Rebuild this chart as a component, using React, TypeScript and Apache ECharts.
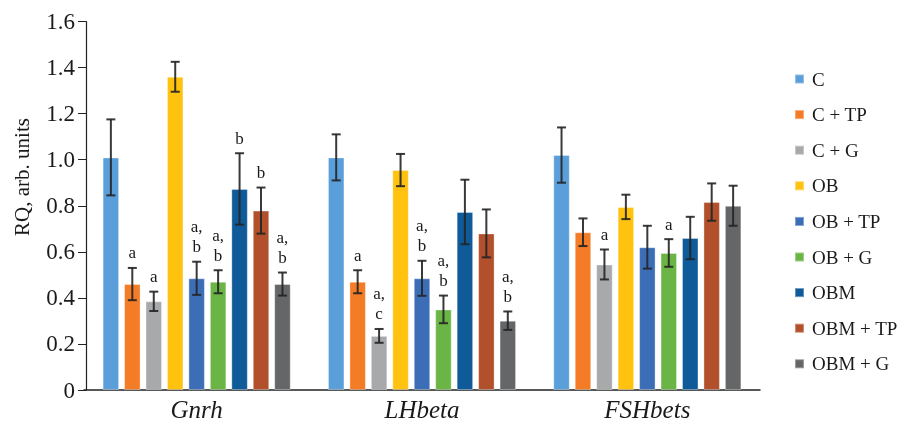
import React, { useEffect, useRef } from "react";
import * as echarts from "echarts";

const categories = ["Gnrh", "LHbeta", "FSHbets"];
const seriesNames = ["C", "C + TP", "C + G", "OB", "OB + TP", "OB + G", "OBM", "OBM + TP", "OBM + G"];
const colors = ["#5A9FD9", "#F47C26", "#A7A9AA", "#FFC20E", "#3C6EB8", "#6AB545", "#0F5A99", "#B1502A", "#646667"];

const valC = [1.01, 1.01, 1.02];
const valCTP = [0.46, 0.47, 0.685];
const valCG = [0.385, 0.235, 0.545];
const valOB = [1.36, 0.955, 0.795];
const valOBTP = [0.485, 0.485, 0.62];
const valOBG = [0.47, 0.35, 0.595];
const valOBM = [0.873, 0.773, 0.66];
const valOBMTP = [0.779, 0.68, 0.816];
const valOBMG = [0.46, 0.301, 0.8];

const errC = [0.165, 0.1, 0.12];
const errCTP = [0.07, 0.05, 0.06];
const errCG = [0.042, 0.03, 0.065];
const errOB = [0.065, 0.07, 0.053];
const errOBTP = [0.072, 0.076, 0.093];
const errOBG = [0.05, 0.06, 0.06];
const errOBM = [0.155, 0.14, 0.092];
const errOBMTP = [0.1, 0.104, 0.081];
const errOBMG = [0.05, 0.04, 0.087];

const letC = ["", "", ""];
const letCTP = ["a", "a", ""];
const letCG = ["a", "a,\nc", "a"];
const letOB = ["", "", ""];
const letOBTP = ["a,\nb", "a,\nb", ""];
const letOBG = ["a,\nb", "a,\nb", "a"];
const letOBM = ["b", "", ""];
const letOBMTP = ["b", "", ""];
const letOBMG = ["a,\nb", "a,\nb", ""];

const yTicks = [0, 0.2, 0.4, 0.6, 0.8, 1.0, 1.2, 1.4, 1.6];

const values = [valC, valCTP, valCG, valOB, valOBTP, valOBG, valOBM, valOBMTP, valOBMG];
const errors = [errC, errCTP, errCG, errOB, errOBTP, errOBG, errOBM, errOBMTP, errOBMG];
const letters = [letC, letCTP, letCG, letOB, letOBTP, letOBG, letOBM, letOBMTP, letOBMG];

const FONT = '"Liberation Serif", "Times New Roman", serif';
const BAR_W = 16.5;
const GAP_RATIO = 0.3;

export default function App() {
  const ref = useRef<HTMLDivElement>(null);
  useEffect(() => {
    if (!ref.current) return;
    const chart = echarts.init(ref.current, null, { renderer: "svg" });
    const n = seriesNames.length;
    const gap = BAR_W * GAP_RATIO;
    const total = n * BAR_W + (n - 1) * gap;

    const barSeries = seriesNames.map((name, i) => ({
      type: "bar",
      name,
      data: values[i],
      barWidth: BAR_W,
      barGap: GAP_RATIO * 100 + "%",
      itemStyle: { color: colors[i], borderColor: "rgba(255,255,255,0.35)", borderWidth: 1 },
      z: 2,
    }));

    const errSeries = seriesNames.map((name, i) => ({
      type: "custom",
      name,
      z: 5,
      clip: false,
      data: values[i].map((v, k) => [k, v, errors[i][k]]),
      renderItem: (params: any, api: any) => {
        const k = api.value(0);
        const v = api.value(1);
        const e = api.value(2);
        const base = api.coord([k, 0]);
        const cx = base[0] - total / 2 + BAR_W / 2 + i * (BAR_W + gap);
        const yt = api.coord([k, v + e])[1];
        const yb = api.coord([k, v - e])[1];
        const stroke = "rgba(35,35,38,0.9)";
        const children: any[] = [
          { type: "line", shape: { x1: cx, y1: yt, x2: cx, y2: yb }, style: { stroke, lineWidth: 2 } },
          { type: "line", shape: { x1: cx - 4.5, y1: yt, x2: cx + 4.5, y2: yt }, style: { stroke, lineWidth: 2 } },
          { type: "line", shape: { x1: cx - 4.5, y1: yb, x2: cx + 4.5, y2: yb }, style: { stroke, lineWidth: 2 } },
        ];
        const t = letters[i][params.dataIndex];
        if (t) {
          children.push({
            type: "text",
            style: {
              text: t,
              x: cx,
              y: yt - 5,
              align: "center",
              verticalAlign: "bottom",
              font: "17px " + FONT,
              lineHeight: 20,
              fill: "#1a1a1a",
            },
          });
        }
        return { type: "group", children };
      },
    }));

    chart.setOption({
      animation: false,
      textStyle: { fontFamily: FONT },
      grid: { left: 84, right: 155, top: 21.5, bottom: 36, containLabel: false },
      legend: {
        orient: "vertical",
        left: 789,
        top: 64.5,
        data: seriesNames,
        icon: "rect",
        itemWidth: 9,
        itemHeight: 9,
        itemGap: 16.6,
        textStyle: { fontFamily: FONT, fontSize: 19, lineHeight: 19, color: "#1a1a1a", padding: [0, 0, 0, 3] },
        selectedMode: false,
      },
      xAxis: {
        type: "category",
        data: categories,
        axisLine: { lineStyle: { color: "#222", width: 1.5 } },
        axisTick: { show: false },
        axisLabel: { fontFamily: FONT, fontSize: 25, fontStyle: "italic", color: "#1a1a1a", margin: 7 },
      },
      yAxis: {
        type: "value",
        min: yTicks[0],
        max: yTicks[yTicks.length - 1],
        interval: 0.2,
        offset: -2,
        splitLine: { show: false },
        axisLine: { show: true, lineStyle: { color: "#222", width: 1.2 } },
        axisTick: { show: true, length: 8, lineStyle: { color: "#222" } },
        axisLabel: {
          fontFamily: FONT,
          fontSize: 23,
          color: "#1a1a1a",
          margin: 11,
          formatter: (v: number) => (v === 0 ? "0" : v.toFixed(1)),
        },
      },
      graphic: [
        {
          type: "text",
          x: 22,
          y: 177,
          rotation: Math.PI / 2,
          style: {
            text: "RQ, arb. units",
            font: "21px " + FONT,
            fill: "#1a1a1a",
            align: "center",
            verticalAlign: "middle",
          },
        },
      ],
      series: [...barSeries, ...errSeries],
    });
    return () => chart.dispose();
  }, []);
  return <div ref={ref} style={{ position: "fixed", left: 0, top: 0, width: 915, height: 426 }} />;
}
